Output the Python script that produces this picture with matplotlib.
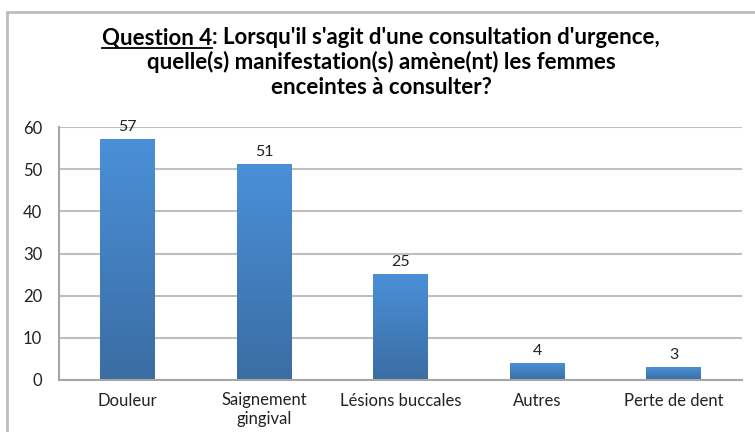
import matplotlib
matplotlib.use('Agg')
import matplotlib.pyplot as plt
import numpy as np
from matplotlib.patches import Rectangle
from matplotlib.lines import Line2D

plt.rcParams['font.family'] = ['Lato', 'DejaVu Sans']

categories = ['Douleur', 'Saignement\ngingival', 'Lésions buccales', 'Autres', 'Perte de dent']
values = [57, 51, 25, 4, 3]
yticks = [0, 10, 20, 30, 40, 50, 60]
title_q = 'Question 4'
title_l1 = ": Lorsqu'il s'agit d'une consultation d'urgence,"
title_l2 = "quelle(s) manifestation(s) amène(nt) les femmes"
title_l3 = "enceintes à consulter?"

fig = plt.figure(figsize=(7.55, 4.32), dpi=100)
ax = fig.add_axes([59 / 755, 1 - 380 / 432, (742 - 59) / 755, (380 - 127) / 432])

# outer chart border
fig.patches.append(Rectangle((7 / 755, -0.05), 1.0, 1 - 12 / 432 + 0.05,
                             transform=fig.transFigure, fill=False,
                             edgecolor='#BDBDBD', linewidth=2))

x = np.arange(len(categories))
w = 0.4
bars = ax.bar(x, values, width=w, color='none')

# vertical gradient on each bar
grad = np.linspace(0, 1, 256).reshape(-1, 1)
cmap = matplotlib.colors.LinearSegmentedColormap.from_list('g', ['#3A6DA3', '#4A90D8'])
for bar, v in zip(bars, values):
    x0 = bar.get_x()
    ax.imshow(grad, extent=(x0, x0 + w, 0, v), origin='lower', aspect='auto',
              cmap=cmap, zorder=2)
    ax.text(bar.get_x() + w / 2, v + 1.3, str(v), ha='center', va='bottom',
            fontsize=11.5, color='#222222')

ax.set_xlim(-0.5, len(categories) - 0.5)
ax.set_ylim(0, 60)
ax.set_yticks(yticks)
ax.set_xticks(x)
ax.set_xticklabels(categories, fontsize=12, linespacing=1.2)
ax.tick_params(axis='both', length=0, labelsize=12, colors='#222222')
ax.tick_params(axis='y', pad=12)
ax.tick_params(axis='x', pad=9)
ax.grid(axis='y', color='#BFBFBF', linewidth=1.5, zorder=0)
ax.set_axisbelow(True)
for s in ['top', 'right']:
    ax.spines[s].set_visible(False)
ax.spines['left'].set_color('#A6A6A6')
ax.spines['bottom'].set_color('#A6A6A6')
ax.spines['left'].set_linewidth(1.5)
ax.spines['bottom'].set_linewidth(1.5)

# title, with underlined "Question 4"
fs = 16
renderer = fig.canvas.get_renderer()
tq = fig.text(0, 0, title_q, fontsize=fs, fontweight='bold')
tr = fig.text(0, 0, title_l1, fontsize=fs, fontweight='bold')
wq = tq.get_window_extent(renderer).width / fig.bbox.width
wr = tr.get_window_extent(renderer).width / fig.bbox.width
cx = 381 / 755
y1 = 1 - 38 / 432
x_start = cx - (wq + wr) / 2
tq.set_position((x_start, y1))
tq.set_va('center')
tr.set_position((x_start + wq, y1))
tr.set_va('center')
fig.lines.append(Line2D([x_start, x_start + wq], [y1 - 10 / 432] * 2,
                        transform=fig.transFigure, color='black', linewidth=1.3))
fig.text(cx, 1 - 62 / 432, title_l2, fontsize=fs, fontweight='bold', ha='center', va='center')
fig.text(cx, 1 - 87 / 432, title_l3, fontsize=fs, fontweight='bold', ha='center', va='center')

plt.savefig('out.png', dpi=100)
